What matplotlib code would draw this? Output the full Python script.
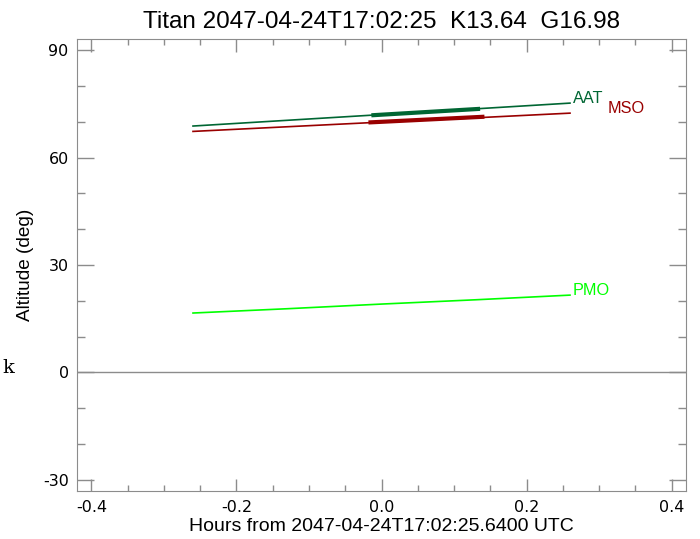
import matplotlib
matplotlib.use("Agg")
import matplotlib.pyplot as plt
from matplotlib.ticker import MultipleLocator

plt.rcParams['font.family'] = ['Liberation Sans', 'DejaVu Sans']
plt.rcParams['axes.unicode_minus'] = False

# hours from reference time
hours = [-0.26, -0.13, 0.0, 0.13, 0.26]
aat = [68.8, 70.4, 72.0, 73.6, 75.2]
mso = [67.3, 68.6, 69.9, 71.1, 72.4]
pmo = [16.6, 17.8, 19.1, 20.3, 21.6]

# observing window (thick part)
win_aat_t = [-0.014, 0.136]
win_aat_alt = [71.8, 73.6]
win_mso_t = [-0.018, 0.142]
win_mso_alt = [69.8, 71.4]

sites = ['AAT', 'MSO', 'PMO']
colors = ['#006633', '#990000', '#00ff00']

gray = '#8c8c8c'

fig = plt.figure(figsize=(7, 5.39), dpi=100)
ax = fig.add_axes([0.11, 0.0896, 0.87, 0.8374])

ax.axhline(0, color=gray, lw=1)

ax.plot(hours, aat, color=colors[0], lw=1.2)
ax.plot(hours, mso, color=colors[1], lw=1.2)
ax.plot(hours, pmo, color=colors[2], lw=1.2)
ax.plot(win_aat_t, win_aat_alt, color=colors[0], lw=3, solid_capstyle='butt')
ax.plot(win_mso_t, win_mso_alt, color=colors[1], lw=3, solid_capstyle='butt')

ax.text(0.264, aat[-1], sites[0], color=colors[0], fontsize=11.7, ha='left', va='baseline')
ax.text(0.312, mso[-1], sites[1], color=colors[1], fontsize=11.7, ha='left', va='baseline')
ax.text(0.264, pmo[-1], sites[2], color=colors[2], fontsize=11.7, ha='left', va='baseline')

ax.set_xlim(-0.42, 0.42)
ax.set_ylim(-33, 93)
ax.xaxis.set_major_locator(MultipleLocator(0.2))
ax.xaxis.set_minor_locator(MultipleLocator(0.05))
ax.yaxis.set_major_locator(MultipleLocator(30))
ax.yaxis.set_minor_locator(MultipleLocator(10))
ax.xaxis.set_major_formatter(plt.FuncFormatter(lambda v, p: '%.1f' % v))
ax.tick_params(which='both', direction='in', top=True, right=True, color=gray, width=1)
ax.tick_params(axis='x', which='major', length=9, pad=7)
ax.tick_params(axis='x', which='minor', length=4)
ax.tick_params(axis='y', which='major', length=12, pad=6)
ax.tick_params(axis='y', which='minor', length=6)
for lab in ax.get_xticklabels() + ax.get_yticklabels():
    lab.set_fontfamily('DejaVu Sans')
    lab.set_fontsize(11.5)
for s in ax.spines.values():
    s.set_color(gray)

ax.set_xlabel('Hours from 2047-04-24T17:02:25.6400 UTC', fontsize=14, labelpad=2)
ax.set_ylabel('Altitude (deg)', fontsize=13.7, labelpad=6)
ax.set_title('Titan 2047-04-24T17:02:25  K13.64  G16.98', fontsize=17.5, pad=8,
             family=['Liberation Sans Narrow', 'Liberation Sans'])

fig.text(0.003, 0.318, 'k', fontsize=14, family='DejaVu Serif', ha='left', va='center')

fig.savefig('out.png', dpi=100)
